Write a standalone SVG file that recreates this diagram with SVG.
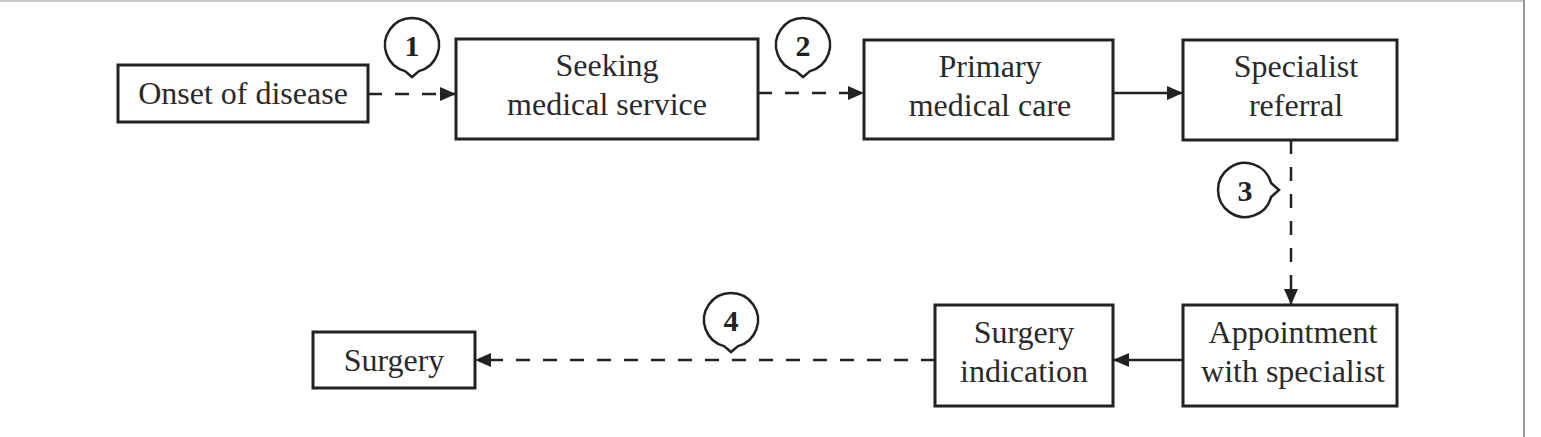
<svg xmlns="http://www.w3.org/2000/svg" width="1541" height="437" viewBox="0 0 1541 437">
<style>
.box{fill:#fff;stroke:#222;stroke-width:3}
.lbl{font-family:"Liberation Serif","Times New Roman",serif;font-size:32px;fill:#2a2a2a;text-anchor:middle}
.num{font-family:"Liberation Serif","Times New Roman",serif;font-size:30px;font-weight:bold;fill:#222;text-anchor:middle}
.call{fill:#fff;stroke:#222;stroke-width:2.5}
.ln{fill:none;stroke:#222;stroke-width:2.5}
.dash{stroke-dasharray:14 13}
</style>
<defs>
<marker id="ah" markerUnits="userSpaceOnUse" markerWidth="18" markerHeight="16" refX="16" refY="7" orient="auto">
<path d="M0,0 L16,7 L0,14 z" fill="#222"/>
</marker>
</defs>
<rect x="0" y="0" width="1541" height="437" fill="#fff"/>
<g id="frame">
<line x1="0" y1="1" x2="1524" y2="1" stroke="#c8c8c8" stroke-width="2"/>
<line x1="1524" y1="0" x2="1524" y2="437" stroke="#999" stroke-width="2"/>
</g>
<g id="connectors">
<line class="ln dash" x1="368" y1="94" x2="456" y2="94" marker-end="url(#ah)"/>
<line class="ln dash" x1="758" y1="93" x2="864" y2="93" marker-end="url(#ah)"/>
<line class="ln" x1="1113" y1="93" x2="1183" y2="93" marker-end="url(#ah)"/>
<line class="ln dash" x1="1291" y1="140" x2="1291" y2="305" marker-end="url(#ah)"/>
<line class="ln" x1="1183" y1="360" x2="1113" y2="360" marker-end="url(#ah)"/>
<line class="ln dash" x1="935" y1="360" x2="475" y2="360" marker-end="url(#ah)"/>
</g>
<g id="onset">
<rect class="box" x="118" y="65" width="250" height="57"/>
<text class="lbl" x="243" y="104">Onset of disease</text>
</g>
<g id="seeking">
<rect class="box" x="456" y="39" width="302" height="100"/>
<text class="lbl" x="607" y="76">Seeking</text>
<text class="lbl" x="607" y="115">medical service</text>
</g>
<g id="primary">
<rect class="box" x="864" y="40" width="249" height="99"/>
<text class="lbl" x="990" y="77">Primary</text>
<text class="lbl" x="990" y="116">medical care</text>
</g>
<g id="specialist">
<rect class="box" x="1183" y="40" width="214" height="100"/>
<text class="lbl" x="1296" y="77">Specialist</text>
<text class="lbl" x="1296" y="116">referral</text>
</g>
<g id="appointment">
<rect class="box" x="1183" y="305" width="214" height="101"/>
<text class="lbl" x="1293" y="343">Appointment</text>
<text class="lbl" x="1293" y="382">with specialist</text>
</g>
<g id="indication">
<rect class="box" x="935" y="305" width="178" height="101"/>
<text class="lbl" x="1024" y="343">Surgery</text>
<text class="lbl" x="1024" y="382">indication</text>
</g>
<g id="surgery">
<rect class="box" x="313" y="332" width="162" height="56"/>
<text class="lbl" x="394" y="371">Surgery</text>
</g>
<g id="callout1">
<path class="call" d="M419,71.1 A27,27 0 1 0 405,71.1 L412,77 Z"/>
<text class="num" x="412" y="56">1</text>
</g>
<g id="callout2">
<path class="call" d="M810,71.1 A27,27 0 1 0 796,71.1 L803,77 Z"/>
<text class="num" x="803" y="56">2</text>
</g>
<g id="callout3">
<path class="call" d="M1271.1,183 A27,27 0 1 0 1271.1,197 L1279,190 Z"/>
<text class="num" x="1245" y="201">3</text>
</g>
<g id="callout4">
<path class="call" d="M738,346.1 A27,27 0 1 0 724,346.1 L731,352 Z"/>
<text class="num" x="731" y="331">4</text>
</g>
</svg>
